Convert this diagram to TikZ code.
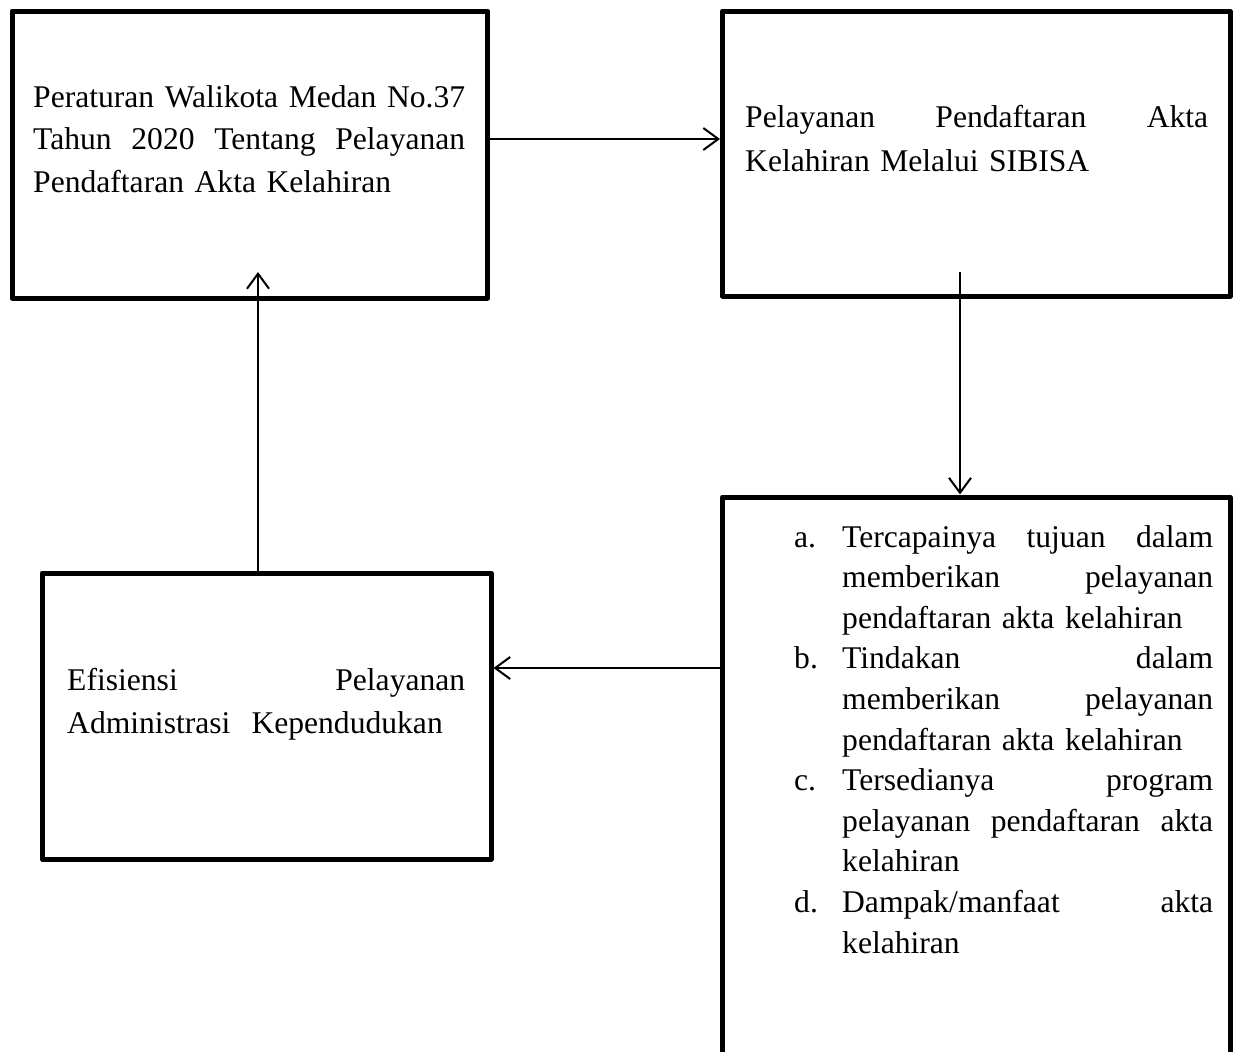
\documentclass[tikz,border=0pt]{standalone}
\usepackage{fontspec}
\setmainfont{Liberation Serif}
\usetikzlibrary{arrows.meta}
\newcommand\spreadline[2]{\leavevmode\hbox to #1{#2}}
\begin{document}
\begin{tikzpicture}[x=1pt,y=-1pt,
  box/.style={draw, line width=5pt, line join=round, rectangle, inner sep=0pt},
  arr/.style={line width=2pt, -{Straight Barb[length=15pt,width=22pt]}},
  txt/.style={anchor=base west, inner sep=0pt, align=left, font=\fontsize{31.6}{42.7}\selectfont},
  listtxt/.style={anchor=base west, inner sep=0pt, align=left, font=\fontsize{31.6}{40.6}\selectfont}]
\clip (0,0) rectangle (1243,1052);
\fill[white] (0,0) rectangle (1243,1052);
% boxes
\node[box, minimum width=475.5pt, minimum height=287pt] (b1) at (249.75,154.5) {};
\node[box, minimum width=507.5pt, minimum height=285pt] (b2) at (976.25,153.5) {};
\node[box, minimum width=507.5pt, minimum height=603pt] (b3) at (976.25,798.5) {};
\node[box, minimum width=449pt, minimum height=286pt] (b4) at (266.5,716) {};
% texts
\node[txt, text width=432pt] (t1) at (33,107.3) {%
\spreadline{432pt}{Peraturan\hfill Walikota\hfill Medan\hfill No.37}\\
\spreadline{432pt}{Tahun\hfill 2020\hfill Tentang\hfill Pelayanan}\\
Pendaftaran Akta Kelahiran};
\node[txt, text width=463pt, font=\fontsize{31.6}{44}\selectfont] (t2) at (745,127) {%
\spreadline{463pt}{Pelayanan\hfill Pendaftaran\hfill Akta}\\
Kelahiran Melalui SIBISA};
\node[listtxt, text width=419pt] (t3) at (794,547) {%
\makebox[48pt][l]{a.}\spreadline{371pt}{Tercapainya\hfill tujuan\hfill dalam}\\
\hspace*{48pt}\spreadline{371pt}{memberikan\hfill pelayanan}\\
\hspace*{48pt}pendaftaran akta kelahiran\\
\makebox[48pt][l]{b.}\spreadline{371pt}{Tindakan\hfill dalam}\\
\hspace*{48pt}\spreadline{371pt}{memberikan\hfill pelayanan}\\
\hspace*{48pt}pendaftaran akta kelahiran\\
\makebox[48pt][l]{c.}\spreadline{371pt}{Tersedianya\hfill program}\\
\hspace*{48pt}\spreadline{371pt}{pelayanan\hfill pendaftaran\hfill akta}\\
\hspace*{48pt}kelahiran\\
\makebox[48pt][l]{d.}\spreadline{371pt}{Dampak/manfaat\hfill akta}\\
\hspace*{48pt}kelahiran};
\node[txt, text width=398pt, font=\fontsize{31.6}{43}\selectfont] (t4) at (67,690) {%
\spreadline{398pt}{Efisiensi\hfill Pelayanan}\\
Administrasi~ Kependudukan};
% connectors
\coordinate (s2) at (960,272);
\coordinate (e4) at (258,272);
\draw[arr] (b1.east |- 0,139) -- (b2.west |- 0,139);
\draw[arr] (s2) -- (s2 |- b3.north);
\draw[arr] (b3.west |- 0,668) -- (b4.east |- 0,668);
\draw[arr] (e4 |- b4.north) -- (e4);
\end{tikzpicture}
\end{document}
